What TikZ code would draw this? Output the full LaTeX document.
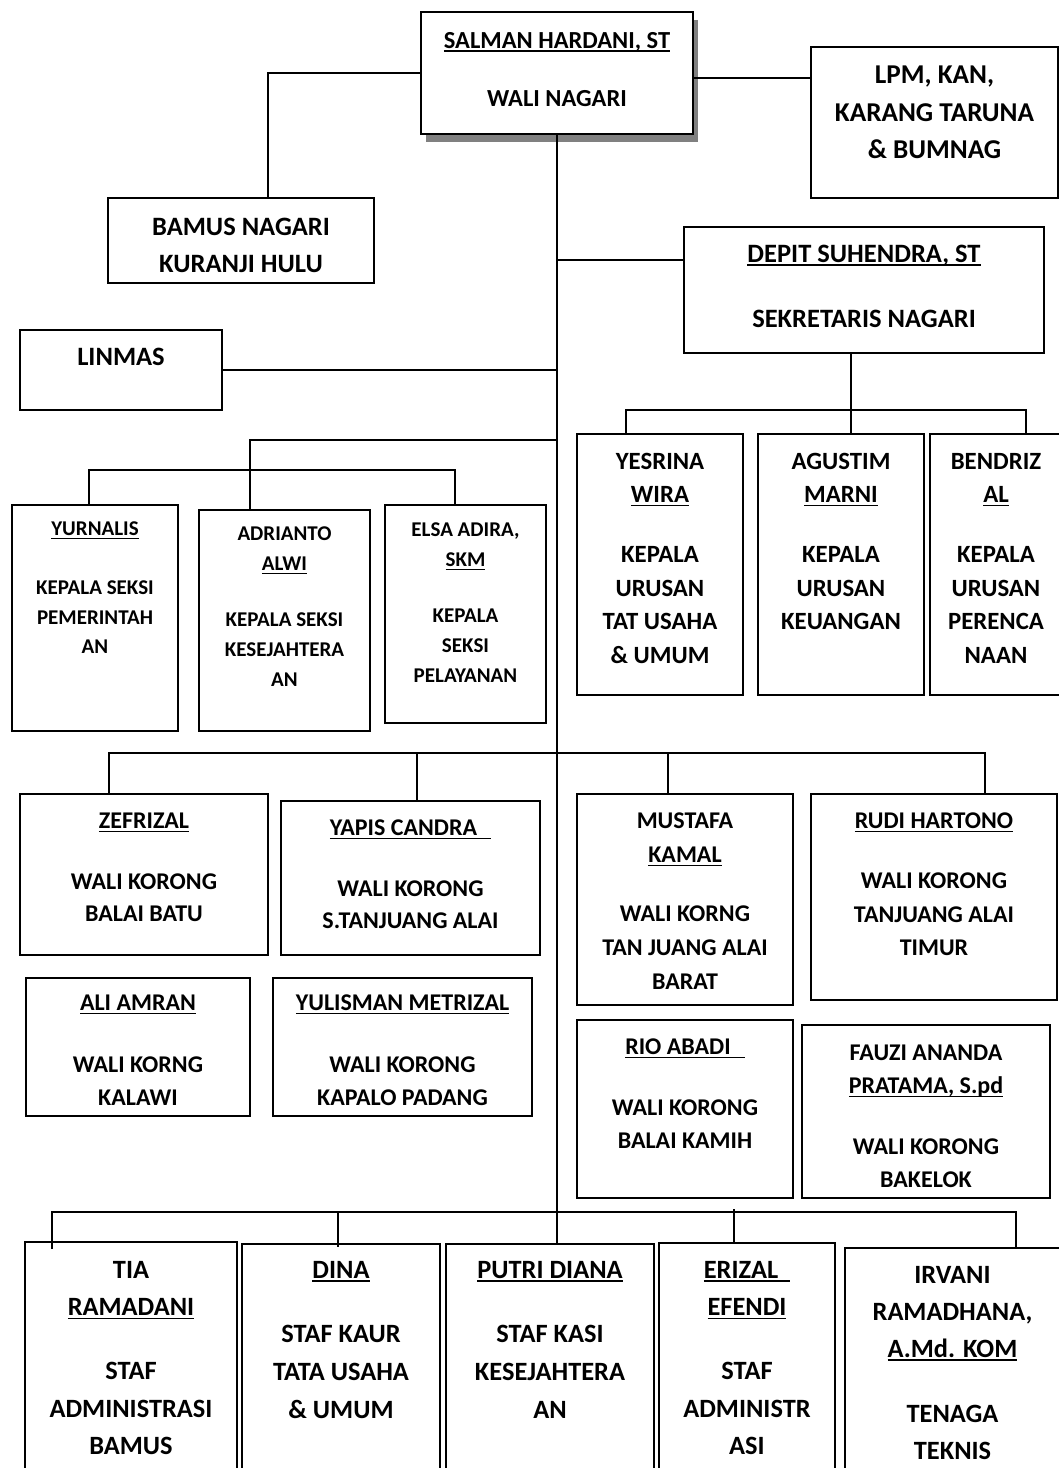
\documentclass[tikz,border=0pt]{standalone}
\usepackage{fontspec}
\setmainfont{Carlito}
\usetikzlibrary{shadows}
\tikzset{
  orgbox/.style={draw, line width=1.6pt, inner sep=0pt, outer sep=0pt, fill=white},
  conn/.style={line width=1.3pt},
}
\newcommand\ff[2]{\bfseries\fontsize{#1}{#2}\selectfont}
\newcommand\ulx[1]{\setbox0\hbox{#1}\leavevmode\rlap{\rule[-3.6pt]{\wd0}{1.5pt}}\box0}
% name, x1, y1, x2, y2, font, top pad, text
\newcommand\mkbox[8]{\node[orgbox,anchor=north west] (#1) at (#2,#3)
  {\begin{minipage}[t][\dimexpr#5pt-#3pt\relax][t]{\dimexpr#4pt-#2pt\relax}#6\centering\vspace*{#7pt}#8\end{minipage}};}
\begin{document}
\begin{tikzpicture}[x=1pt,y=-1pt]
\useasboundingbox (0,0) rectangle (1059,1468);
\clip (0,0) rectangle (1059,1468);

% top
\node[orgbox,anchor=north west,drop shadow={shadow xshift=5pt,shadow yshift=-8pt,fill=black!50,opacity=1}] (salman) at (421,12)
  {\begin{minipage}[t][122pt][t]{272pt}\ff{24.5}{29}\centering\vspace*{20pt}\ulx{SALMAN HARDANI, ST}\\[29pt]WALI NAGARI\end{minipage}};
\mkbox{lpm}{811}{47}{1058}{198}{\ff{27.2}{37.5}}{19}{LPM, KAN,\\KARANG TARUNA\\\& BUMNAG}
\mkbox{bamus}{108}{198}{374}{283}{\ff{26.5}{37}}{20}{BAMUS NAGARI\\KURANJI HULU}
\mkbox{depit}{684}{227}{1044}{353}{\ff{26.5}{32.5}}{18}{\ulx{DEPIT SUHENDRA, ST}\\[32.5pt]SEKRETARIS NAGARI}
\mkbox{linmas}{20}{330}{222}{410}{\ff{26.5}{37}}{18}{LINMAS}

% kaur
\mkbox{yesrina}{577}{434}{743}{695}{\ff{24.8}{33.5}}{19}{YESRINA\\\ulx{WIRA}\\[26.5pt]KEPALA\\URUSAN\\TAT USAHA\\\& UMUM}
\mkbox{agustim}{758}{434}{924}{695}{\ff{24.8}{33.5}}{19}{AGUSTIM\\\ulx{MARNI}\\[26.5pt]KEPALA\\URUSAN\\KEUANGAN}
\mkbox{bendriz}{930}{434}{1062}{695}{\ff{24.8}{33.5}}{19}{BENDRIZ\\\ulx{AL}\\[26.5pt]KEPALA\\URUSAN\\PERENCA\\NAAN}

% kasi
\mkbox{yurnalis}{12}{505}{178}{731}{\ff{21}{29.5}}{17}{\ulx{YURNALIS}\\[29.5pt]KEPALA SEKSI\\PEMERINTAH\\AN}
\mkbox{adrianto}{199}{510}{370}{731}{\ff{21}{30}}{17}{ADRIANTO\\\ulx{ALWI}\\[26pt]KEPALA SEKSI\\KESEJAHTERA\\AN}
\mkbox{elsa}{385}{505}{546}{723}{\ff{21}{30}}{18}{ELSA ADIRA,\\\ulx{SKM}\\[26pt]KEPALA\\SEKSI\\PELAYANAN}

% wali korong
\mkbox{zefrizal}{20}{794}{268}{955}{\ff{24}{32.5}}{19}{\ulx{ZEFRIZAL}\\[28pt]WALI KORONG\\BALAI BATU}
\mkbox{yapis}{281}{801}{540}{955}{\ff{24}{32.5}}{19}{\ulx{YAPIS CANDRA\hspace{14pt}}\\[28pt]WALI KORONG\\S.TANJUANG ALAI}
\mkbox{mustafa}{577}{794}{793}{1005}{\ff{24}{33.7}}{19}{MUSTAFA\\\ulx{KAMAL}\\[25.5pt]WALI KORNG\\TAN JUANG ALAI\\BARAT}
\mkbox{rudi}{811}{794}{1057}{1000}{\ff{24}{33.5}}{19}{\ulx{RUDI HARTONO}\\[26.5pt]WALI KORONG\\TANJUANG ALAI\\TIMUR}
\mkbox{ali}{26}{978}{250}{1116}{\ff{24}{33}}{17}{\ulx{ALI AMRAN}\\[29pt]WALI KORNG\\KALAWI}
\mkbox{yulisman}{273}{978}{532}{1116}{\ff{24}{33}}{17}{\ulx{YULISMAN METRIZAL}\\[29pt]WALI KORONG\\KAPALO PADANG}
\mkbox{rio}{577}{1020}{793}{1198}{\ff{24}{33.5}}{19}{\ulx{RIO ABADI\hspace{14pt}}\\[27pt]WALI KORONG\\BALAI KAMIH}
\mkbox{fauzi}{802}{1025}{1050}{1198}{\ff{24}{33}}{20}{FAUZI ANANDA\\\ulx{PRATAMA, S.pd}\\[28pt]WALI KORONG\\BAKELOK}

% staff
\mkbox{tia}{25}{1242}{237}{1480}{\ff{26.4}{37.7}}{19}{TIA\\\ulx{RAMADANI}\\[26pt]STAF\\ADMINISTRASI\\BAMUS}
\mkbox{dina}{242}{1244}{440}{1480}{\ff{26.4}{37.7}}{17}{\ulx{DINA}\\[27pt]STAF KAUR\\TATA USAHA\\\& UMUM}
\mkbox{putri}{446}{1244}{654}{1480}{\ff{26.4}{37.7}}{17}{\ulx{PUTRI DIANA}\\[27pt]STAF KASI\\KESEJAHTERA\\AN}
\mkbox{erizal}{659}{1243}{835}{1480}{\ff{26.4}{37.7}}{18}{\ulx{ERIZAL\hspace{12pt}}\\\ulx{EFENDI}\\[26pt]STAF\\ADMINISTR\\ASI}
\mkbox{irvani}{845}{1248}{1060}{1480}{\ff{26.4}{37}}{18}{IRVANI\\RAMADHANA,\\\ulx{A.Md. KOM}\\[28pt]TENAGA\\TEKNIS}

% connectors
\draw[conn] (salman.south) -- (salman.south |- putri.north);
\draw[conn] (salman.west) -| ([xshift=27pt]bamus.north);
\coordinate (jLpm) at ([yshift=-5pt]salman.east);
\draw[conn] (jLpm) -- (jLpm -| lpm.west);
\coordinate (jDep) at ([yshift=30pt]depit.west);
\draw[conn] (jDep) -- (jDep -| salman.south);
\draw[conn] (linmas.east) -- (linmas.east -| salman.south);

\coordinate (skJ) at (851,410);
\coordinate (skL) at (626,410);
\coordinate (skR) at (1026,410);
\draw[conn] (skJ |- depit.south) -- (skJ) -- (skJ |- agustim.north);
\draw[conn] (skL |- yesrina.north) -- (skL) -- (skR) -- (skR |- bendriz.north);

\coordinate (ksJ) at (557,440);
\coordinate (ksA) at (250,470);
\coordinate (ksL) at (89,470);
\coordinate (ksR) at (455,470);
\draw[conn] (ksJ) -| (ksA |- adrianto.north);
\draw[conn] (ksL |- yurnalis.north) -- (ksL) -- (ksR) -- (ksR |- elsa.north);

\coordinate (wkL) at (109,753);
\coordinate (wk2) at (417,753);
\coordinate (wk3) at (668,753);
\coordinate (wkR) at (985,753);
\draw[conn] (wkL |- zefrizal.north) -- (wkL) -- (wkR) -- (wkR |- rudi.north);
\draw[conn] (wk2) -- (wk2 |- yapis.north);
\draw[conn] (wk3) -- (wk3 |- mustafa.north);

\coordinate (bL) at (52,1212);
\coordinate (bLend) at (52,1249);
\coordinate (b2) at (338,1212);
\coordinate (b4) at (734,1209);
\coordinate (bR) at (1016,1212);
\draw[conn] (bLend) -- (bL) -- (bR) -- (bR |- irvani.north);
\draw[conn] (b2) -- ([yshift=-3pt]b2 |- dina.north);
\draw[conn] (b4) -- (b4 |- erizal.north);
\end{tikzpicture}
\end{document}
